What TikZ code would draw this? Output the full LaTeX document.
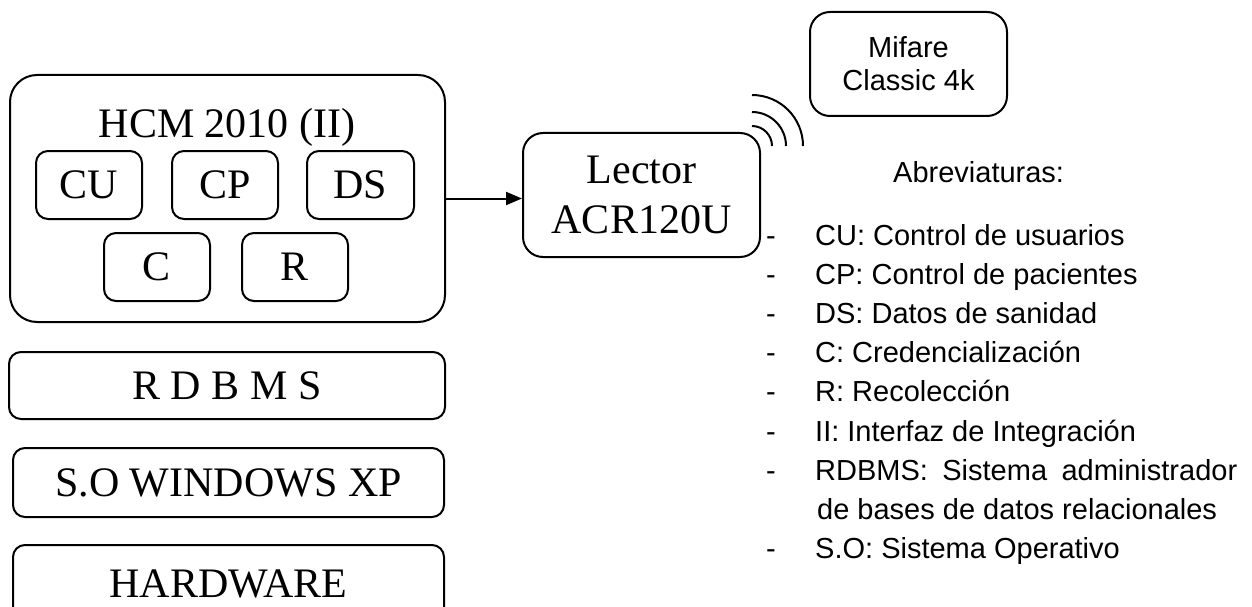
\documentclass[tikz,border=0pt]{standalone}
\usepackage{fontspec}
\setmainfont{Liberation Serif}
\newfontfamily\arial{Liberation Sans}
\usetikzlibrary{arrows.meta}

\begin{document}
\begin{tikzpicture}[x=1pt,y=1pt,>={Triangle[length=16pt,width=13pt]}]
    \tikzstyle{bloque} = [draw,line width=2pt,rounded corners=12pt,inner sep=0pt,align=center,font=\fontsize{42}{50}\selectfont]
    \tikzstyle{nota} = [inner sep=0pt,anchor=base west,font=\arial\fontsize{29}{33}\selectfont]
    \useasboundingbox (0,0) rectangle (1252,-607);
    \clip (0,0) rectangle (1252,-607);
    % HCM 2010 y sus modulos
    \node[bloque,rounded corners=27pt,minimum width=435pt,minimum height=247pt] (hcm) at (227.5,-198.5) {};
    \node[inner sep=0pt,anchor=base,font=\fontsize{42}{50}\selectfont] (titulo) at (227,-137) {HCM 2010 (II)};
    \node[bloque,minimum width=106pt,minimum height=68pt] (cu) at (89,-185) {CU};
    \node[bloque,minimum width=106pt,minimum height=68pt] (cp) at (225,-185) {CP};
    \node[bloque,minimum width=107pt,minimum height=68pt] (ds) at (360.5,-185) {DS};
    \node[bloque,minimum width=106pt,minimum height=68pt] (c) at (157,-267) {C};
    \node[bloque,minimum width=106pt,minimum height=68pt] (r) at (295,-267) {R};
    % capas
    \node[bloque,minimum width=436pt,minimum height=67pt] (rdbms) at (227,-385.5) {R D B M S};
    \node[bloque,minimum width=431pt,minimum height=69pt] (so) at (228.5,-482.5) {S.O WINDOWS XP};
    \node[bloque,minimum width=431pt,minimum height=77pt] (hw) at (228.5,-583.5) {HARDWARE};
    % lector y tarjeta
    \node[bloque,rounded corners=20pt,minimum width=237pt,minimum height=124pt] (lector) at (641.5,-195) {Lector\\ACR120U};
    \draw[->,line width=2pt] (hcm.east) -- (hcm.east -| lector.west);
    \node[bloque,rounded corners=20pt,minimum width=197pt,minimum height=104pt,font=\arial\fontsize{29}{33}\selectfont] (mifare) at (908.5,-64) {Mifare\\Classic 4k};
    \coordinate (antena) at (752,-146);
    \foreach \r in {20,34,51}
    {
      \draw[line width=2pt] (antena) ++(0,\r) arc[start angle=90,end angle=0,radius=\r];
    }
    % abreviaturas
    \node[nota] (abrev) at (893,-182) {Abreviaturas:};
    \foreach \y/\t [count=\i] in {245/{CU: Control de usuarios},284/{CP: Control de pacientes},323/{DS: Datos de sanidad},362/{C: Credencialización},401/{R: Recolección},441/{II: Interfaz de Integración},480/{\makebox[422pt][s]{RDBMS: Sistema administrador}},558/{S.O: Sistema Operativo}}
    {
      \node[nota] (guion\i) at (766,-\y) {-};
      \node[nota] (abr\i) at (815,-\y) {\t};
    }
    \node[nota] (abrsig) at (817,-519) {de bases de datos relacionales};
\end{tikzpicture}
\end{document}
